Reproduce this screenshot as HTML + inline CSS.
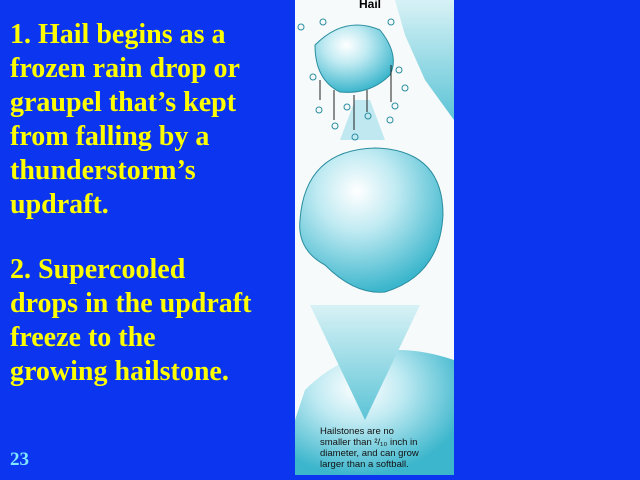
<!DOCTYPE html>
<html><head><meta charset="utf-8"><style>
body{margin:0;width:640px;height:480px;background:#0b35ee;overflow:hidden;position:relative;font-family:"Liberation Serif",serif}
.t{position:absolute;left:10px;color:#ffff00;font-weight:bold;font-size:28px;line-height:34px;margin:0;white-space:nowrap}
#n{position:absolute;left:10px;top:449px;color:#7fe6ff;font-weight:bold;font-size:19px}
svg{position:absolute;left:295px;top:0}
</style></head><body>
<p class="t" style="top:18px">1. Hail begins as a<br>frozen rain drop or<br>graupel that’s kept<br>from falling by a<br>thunderstorm’s<br>updraft.</p>
<p class="t" style="top:253px">2. Supercooled<br>drops in the updraft<br>freeze to the<br>growing hailstone.</p>
<div id="n">23</div>
<svg width="159" height="475">
<defs>
<radialGradient id="g" cx="40%" cy="30%" r="70%"><stop offset="0" stop-color="#fff"/><stop offset="0.4" stop-color="#bfeaf2"/><stop offset="1" stop-color="#3cb6cc"/></radialGradient>
<linearGradient id="a" x1="0" y1="0" x2="0" y2="1"><stop offset="0" stop-color="#d8f2f6"/><stop offset="1" stop-color="#5cc4d6"/></linearGradient>
</defs>
<rect width="159" height="475" fill="#f6fafa"/>
<polygon points="100,0 159,0 159,120 130,80 110,35" fill="url(#a)"/>
<polygon points="45,140 60,100 75,100 90,140" fill="#bfe8f0"/>
<path d="M10,390 Q70,330 159,360 L159,475 L0,475 L0,420 Z" fill="url(#g)"/>
<polygon points="15,305 125,305 70,420" fill="url(#a)"/>
<path d="M5,220 Q10,150 80,148 Q148,150 148,215 Q145,275 90,292 Q60,295 30,265 Q2,250 5,220Z" fill="url(#g)" stroke="#2a8ea0"/>
<path d="M20,45 Q50,15 85,30 Q105,55 95,75 Q75,95 45,92 Q20,80 20,45Z" fill="url(#g)" stroke="#2a8ea0"/>
<text x="75" y="8" font-family="Liberation Sans" font-weight="bold" font-size="12" text-anchor="middle">Hail</text>
<g fill="none" stroke="#2a8ea0"><circle cx="6" cy="27" r="3"/><circle cx="28" cy="22" r="3"/><circle cx="96" cy="22" r="3"/><circle cx="18" cy="77" r="3"/><circle cx="24" cy="110" r="3"/><circle cx="40" cy="126" r="3"/><circle cx="60" cy="137" r="3"/><circle cx="95" cy="120" r="3"/><circle cx="104" cy="70" r="3"/><circle cx="110" cy="88" r="3"/><circle cx="100" cy="106" r="3"/><circle cx="52" cy="107" r="3"/><circle cx="73" cy="116" r="3"/></g>
<g stroke="#222" fill="#222"><line x1="25" y1="80" x2="25" y2="100"/><line x1="39" y1="90" x2="39" y2="120"/><line x1="59" y1="95" x2="59" y2="130"/><line x1="72" y1="90" x2="72" y2="112"/><line x1="96" y1="65" x2="96" y2="102"/></g>
<text font-family="Liberation Sans" font-size="9.5" fill="#111"><tspan x="25" y="434">Hailstones are no</tspan><tspan x="25" y="445">smaller than ²/₁₀ inch in</tspan><tspan x="25" y="456">diameter, and can grow</tspan><tspan x="25" y="467">larger than a softball.</tspan></text>
</svg>
</body></html>
